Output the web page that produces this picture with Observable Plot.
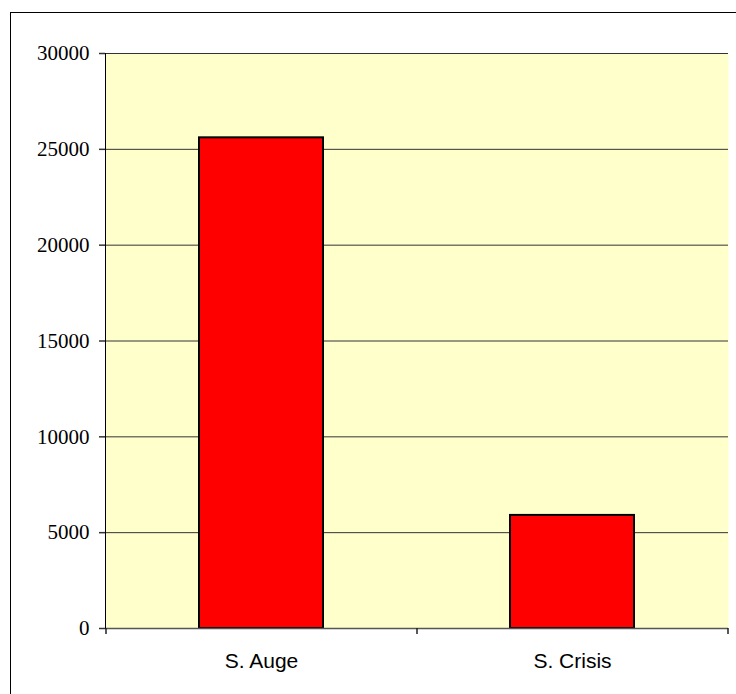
<!DOCTYPE html>
<html>
<head>
<meta charset="utf-8">
<script src="https://cdn.jsdelivr.net/npm/d3@7"></script>
<script src="https://cdn.jsdelivr.net/npm/@observablehq/plot@0.6"></script>
<style>
  html, body { margin: 0; padding: 0; background: #fff; }
  #chart { position: relative; width: 736px; height: 694px; overflow: hidden; }
  #border {
    position: absolute; left: 10px; top: 12px; width: 760px; height: 720px;
    border: 1.5px solid #000; box-sizing: border-box; pointer-events: none;
  }
  #chart svg { position: absolute; left: 0; top: 0; }
  #chart svg .ylab text { font-family: "Liberation Serif", "DejaVu Serif", "Times New Roman", serif; }
  #chart svg .xlab text { font-family: "Liberation Sans", Arial, sans-serif; }
</style>
</head>
<body>
<div id="chart"><div id="border"></div></div>
<script>
// Categories and their values
const categories = ["S. Auge", "S. Crisis"];
const values = [25600, 5900];
const yTicks = [0, 5000, 10000, 15000, 20000, 25000, 30000];

const data = categories.map((c, i) => ({category: c, value: values[i]}));

// Small tick marks at the category boundaries below the baseline
function categoryBoundaryTicks(index, scales, vals, dimensions) {
  const x = scales.x;
  const bw = x.bandwidth();
  const step = x.step();
  const gap = (step - bw) / 2;
  const edges = categories.map(c => x(c) - gap);
  edges.push(x(categories[categories.length - 1]) + bw + gap);
  const y0 = dimensions.height - dimensions.marginBottom;
  const g = d3.create("svg:g").attr("stroke", "#222").attr("stroke-width", 1.5);
  for (const e of edges) {
    g.append("line")
      .attr("x1", Math.round(e)).attr("x2", Math.round(e))
      .attr("y1", y0).attr("y2", y0 + 6);
  }
  return g.node();
}

const chart = Plot.plot({
  width: 736,
  height: 694,
  marginLeft: 105,
  marginRight: 8,
  marginTop: 53,
  marginBottom: 66,
  style: {background: "transparent", color: "#000", overflow: "visible"},
  x: {domain: categories, paddingInner: 0.6, paddingOuter: 0.3, label: null},
  y: {domain: [0, 30000], label: null},
  marks: [
    Plot.frame({fill: "#FFFFCC", stroke: null}),
    Plot.gridY(yTicks.filter(d => d > 0), {stroke: "#333", strokeOpacity: 1, strokeWidth: 1}),
    Plot.barY(data, {x: "category", y: "value", fill: "#FF0000", stroke: "#000", strokeWidth: 2}),
    Plot.ruleY([0], {stroke: "#555", strokeWidth: 1.5}),
    Plot.frame({anchor: "left", stroke: "#000", strokeWidth: 1}),
    // y tick stubs (labels drawn separately in a serif face)
    Plot.axisY({ticks: yTicks, tickSize: 6, tickFormat: () => "", label: null, stroke: "#333", strokeWidth: 1.5}),
    Plot.text(yTicks, {
      y: d => d, text: d => String(d), frameAnchor: "left", dx: -16, textAnchor: "end",
      fontFamily: "Liberation Serif", fontSize: 21, fill: "#000", className: "ylab"
    }),
    Plot.axisX({
      tickSize: 0, tickPadding: 25,
      fontFamily: "Liberation Sans", fontSize: 21, label: null, className: "xlab"
    }),
    categoryBoundaryTicks
  ]
});

document.getElementById("chart").prepend(chart);
</script>
</body>
</html>
